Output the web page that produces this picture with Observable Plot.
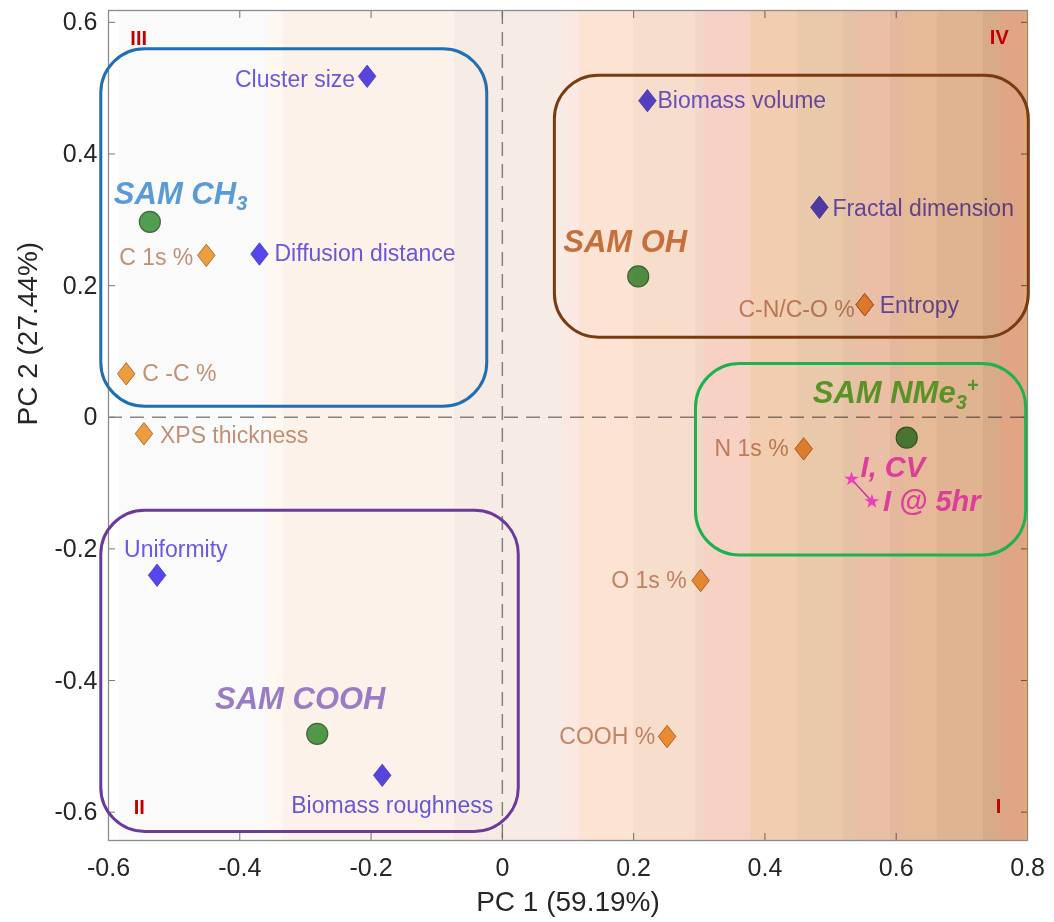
<!DOCTYPE html>
<html>
<head>
<meta charset="utf-8">
<script src="https://cdn.jsdelivr.net/npm/d3@7"></script>
<script src="https://cdn.jsdelivr.net/npm/@observablehq/plot@0.6"></script>
<style>
  html, body { margin: 0; padding: 0; background: #fff; }
  #chart { width: 1054px; height: 922px; }
</style>
</head>
<body>
<div id="chart"></div>
<script>
// ================= DATA =================
// SAM surfaces (green circles)
const samNames = ["SAM CH_3", "SAM OH", "SAM NMe_3^+", "SAM COOH"];
const samPC1   = [-0.537, 0.207, 0.616, -0.282];
const samPC2   = [ 0.297, 0.214, -0.031, -0.481];

// Biofilm descriptors (blue diamonds)
const bioNames = ["Cluster size", "Diffusion distance", "Biomass volume", "Fractal dimension", "Entropy", "Uniformity", "Biomass roughness"];
const bioPC1   = [-0.206, -0.370, 0.221, 0.483, 0.552, -0.526, -0.183];
const bioPC2   = [ 0.518,  0.248, 0.481, 0.319, 0.171, -0.240, -0.544];

// XPS descriptors (orange diamonds)
const xpsNames = ["C 1s %", "C -C %", "XPS thickness", "C-N/C-O %", "N 1s %", "O 1s %", "COOH %"];
const xpsPC1   = [-0.451, -0.573, -0.546, 0.552, 0.459, 0.302, 0.251];
const xpsPC2   = [ 0.246,  0.066, -0.025, 0.171, -0.048, -0.248, -0.485];

// Current (pink stars)
const curNames = ["I, CV", "I @ 5hr"];
const curPC1   = [0.532, 0.563];
const curPC2   = [-0.094, -0.128];

// Group boxes (extent in PC units)
const boxNames  = ["SAM CH_3", "SAM OH", "SAM NMe_3^+", "SAM COOH"];
const boxPC1min = [-0.611, 0.080, 0.295, -0.611];
const boxPC1max = [-0.023, 0.802, 0.798,  0.025];
const boxPC2min = [ 0.016, 0.121, -0.210, -0.630];
const boxPC2max = [ 0.559, 0.519,  0.081, -0.142];

// Quadrant markers
const quadNames = ["I", "II", "III", "IV"];
const quadPC1   = [0.756, -0.553, -0.554, 0.757];
const quadPC2   = [-0.592, -0.593, 0.575, 0.577];

// Axes
const xTicks = [-0.6, -0.4, -0.2, 0, 0.2, 0.4, 0.6, 0.8];
const yTicks = [-0.6, -0.4, -0.2, 0, 0.2, 0.4, 0.6];
const xTitle = "PC 1 (59.19%)";
const yTitle = "PC 2 (27.44%)";

// ================= STYLE / DECORATION =================
const xDomain = [-0.6, 0.8];
const yDomain = [-0.643, 0.618];

// stepped background shading (PC1 band starts and colours)
const bandStarts = [-0.6, -0.5833, -0.3582, -0.3334, -0.0727, 0.0934, 0.1178, 0.2002, 0.2947, 0.3069, 0.3785, 0.4502, 0.5203, 0.5431, 0.5919, 0.6148, 0.6636, 0.7337, 0.7596, 0.7947];
const bandColors = ["#ffffff", "#fafafa", "#fff8f0", "#fdf2ea", "#f6ece5", "#fce8e2", "#fde3d4", "#f7ddcc", "#f1d7c8", "#f7d2c4", "#f2cdb0", "#eac8aa", "#e5c2a6", "#ebbea6", "#e5b89e", "#e6ba96", "#e0b490", "#d8ab88", "#e0a585", "#e4aa7a"];

const FONT = "'Liberation Sans', Arial, Helvetica, sans-serif";
const boxColor = {"SAM CH_3": "#1f6fb2", "SAM OH": "#7a3b10", "SAM NMe_3^+": "#1db150", "SAM COOH": "#6a3a9e"};
const groupColor = {"SAM CH_3": "#5b9bd5", "SAM OH": "#c4703c", "SAM NMe_3^+": "#5a9228", "SAM COOH": "#9a7cc4"};

const place = {
  "Cluster size":       {textAnchor: "end",    dx: -12, dy: 3},
  "Diffusion distance": {textAnchor: "start",  dx: 15,  dy: 0},
  "Biomass volume":     {textAnchor: "start",  dx: 10,  dy: 0},
  "Fractal dimension":  {textAnchor: "start",  dx: 13,  dy: 1},
  "Entropy":            {textAnchor: "start",  dx: 15,  dy: 1},
  "Uniformity":         {textAnchor: "start",  dx: -33, dy: -26},
  "Biomass roughness":  {textAnchor: "middle", dx: 10,  dy: 30},
  "C 1s %":             {textAnchor: "end",    dx: -13, dy: 2},
  "C -C %":             {textAnchor: "start",  dx: 16,  dy: 0},
  "XPS thickness":      {textAnchor: "start",  dx: 16,  dy: 2},
  "C-N/C-O %":          {textAnchor: "end",    dx: -10, dy: 5},
  "N 1s %":             {textAnchor: "end",    dx: -15, dy: 0},
  "O 1s %":             {textAnchor: "end",    dx: -14, dy: 0},
  "COOH %":             {textAnchor: "end",    dx: -12, dy: 0},
  "SAM CH_3":           {textAnchor: "start",  dx: -36, dy: -28},
  "SAM OH":             {textAnchor: "middle", dx: -13, dy: -34},
  "SAM NMe_3^+":        {textAnchor: "start",  dx: -94, dy: -45},
  "SAM COOH":           {textAnchor: "middle", dx: -17, dy: -35},
  "I, CV":              {textAnchor: "start",  dx: 9,   dy: -11},
  "I @ 5hr":            {textAnchor: "start",  dx: 11,  dy: 0}
};

// ================= TABLES =================
const zip = (names, a, b) => names.map((name, i) => ({name, pc1: a[i], pc2: b[i]}));
const sam = zip(samNames, samPC1, samPC2);
const bio = zip(bioNames, bioPC1, bioPC2);
const xps = zip(xpsNames, xpsPC1, xpsPC2);
const cur = zip(curNames, curPC1, curPC2);
const quads = zip(quadNames, quadPC1, quadPC2);
const boxes = boxNames.map((name, i) => ({name, x1: boxPC1min[i], x2: boxPC1max[i], y1: boxPC2min[i], y2: boxPC2max[i]}));
const bands = bandStarts.map((s, i) => ({x1: s, x2: i + 1 < bandStarts.length ? bandStarts[i + 1] : xDomain[1], color: bandColors[i]}));

const diamond = {
  draw(ctx, size) {
    const r = Math.sqrt(size / Math.PI);
    const h = r * 1.6, w = r * 1.25;
    ctx.moveTo(0, -h); ctx.lineTo(w, 0); ctx.lineTo(0, h); ctx.lineTo(-w, 0); ctx.closePath();
  }
};

const labelMarks = (rows, opts) => rows.map(d => Plot.text([d], {x: "pc1", y: "pc2", text: "name", ...place[d.name], ...opts}));

const fmt = d => String(d);

const plot = Plot.plot({
  width: 1054,
  height: 922,
  marginLeft: 108,
  marginRight: 27,
  marginTop: 10,
  marginBottom: 82,
  style: {fontFamily: FONT, background: "#fff", overflow: "visible"},
  x: {domain: xDomain},
  y: {domain: yDomain},
  marks: [
    // zero lines
    Plot.ruleX([0], {stroke: "#8a8a8a", strokeWidth: 1.5, strokeDasharray: "14,8"}),
    Plot.ruleY([0], {stroke: "#8a8a8a", strokeWidth: 1.5, strokeDasharray: "14,8"}),
    // descriptors
    Plot.dot(bio, {x: "pc1", y: "pc2", symbol: diamond, r: 7, fill: "#5548f0", stroke: "#4638d0", strokeWidth: 0.8}),
    Plot.dot(xps, {x: "pc1", y: "pc2", symbol: diamond, r: 7, fill: "#f0a040", stroke: "#b8702c", strokeWidth: 1}),
    Plot.dot(sam, {x: "pc1", y: "pc2", r: 10.5, fill: "#52a052", stroke: "#3a6e3a", strokeWidth: 1.2}),
    ...labelMarks(bio, {fill: "#6a5ce8", fontSize: 23}),
    ...labelMarks(xps, {fill: "#c49478", fontSize: 23}),
    // inward ticks
    Plot.axisX(xTicks, {anchor: "bottom", tickSize: -7, fill: "none", stroke: "#777", label: null}),
    Plot.axisX(xTicks, {anchor: "top", tickSize: -7, fill: "none", stroke: "#777", label: null}),
    Plot.axisY(yTicks, {anchor: "left", tickSize: -7, fill: "none", stroke: "#777", label: null}),
    Plot.axisY(yTicks, {anchor: "right", tickSize: -7, fill: "none", stroke: "#777", label: null}),
    // shading overlay
    Plot.rect(bands, {x1: "x1", x2: "x2", y1: yDomain[0], y2: yDomain[1], fill: "color", mixBlendMode: "multiply", shapeRendering: "crispEdges"}),
    Plot.frame({stroke: "#8c8c8c", strokeWidth: 1.3}),
    // group boxes
    Plot.rect(boxes, {x1: "x1", x2: "x2", y1: "y1", y2: "y2", rx: 44, fill: "none", stroke: d => boxColor[d.name], strokeWidth: 3}),
    ...sam.map(d => Plot.text([d], {x: "pc1", y: "pc2", text: "name", ...place[d.name], fill: groupColor[d.name], fontSize: 31, fontWeight: "bold", fontStyle: "italic"})),
    // quadrant numerals
    Plot.text(quads, {x: "pc1", y: "pc2", text: "name", fill: "#c00000", fontSize: 20, fontWeight: "bold"}),
    // currents
    Plot.line(cur, {x: "pc1", y: "pc2", stroke: "#c8389a", strokeWidth: 1.5}),
    Plot.dot(cur, {x: "pc1", y: "pc2", symbol: "star", r: 4.6, fill: "#f03cc0", stroke: "none"}),
    ...labelMarks(cur, {fill: "#dc3e9c", fontSize: 29, fontWeight: "bold", fontStyle: "italic"}),
    // tick labels
    Plot.axisX(xTicks, {anchor: "bottom", tickSize: 0, tickPadding: 18, fontSize: 25, fill: "#262626", tickFormat: fmt, label: null}),
    Plot.axisY(yTicks, {anchor: "left", tickSize: 0, tickPadding: 11, fontSize: 25, fill: "#262626", tickFormat: fmt, label: null}),
    // axis titles
    Plot.text([xTitle], {text: d => d, frameAnchor: "bottom", dy: 70, fontSize: 28, fill: "#262626"}),
    Plot.text([yTitle], {text: d => d, frameAnchor: "left", dx: -80, rotate: -90, fontSize: 28, fill: "#262626"})
  ]
});

// sub/superscripts written as _x and ^x
d3.select(plot).selectAll("text").each(function () {
  const t = this.textContent;
  if (!/[_^]/.test(t)) return;
  const parts = t.match(/(_.|\^.|[^_^]+)/g);
  const sel = d3.select(this);
  sel.text(null);
  let shift = 0;
  for (const p of parts) {
    const ts = sel.append("tspan");
    let target = 0, txt = p, size = null;
    if (p[0] === "_") { target = 6; txt = p.slice(1); size = 20; }
    else if (p[0] === "^") { target = -11; txt = p.slice(1); size = 20; }
    ts.text(txt);
    if (size) ts.attr("font-size", size);
    if (target !== shift) { ts.attr("dy", target - shift); shift = target; }
  }
});

document.getElementById("chart").appendChild(plot);
</script>
</body>
</html>
